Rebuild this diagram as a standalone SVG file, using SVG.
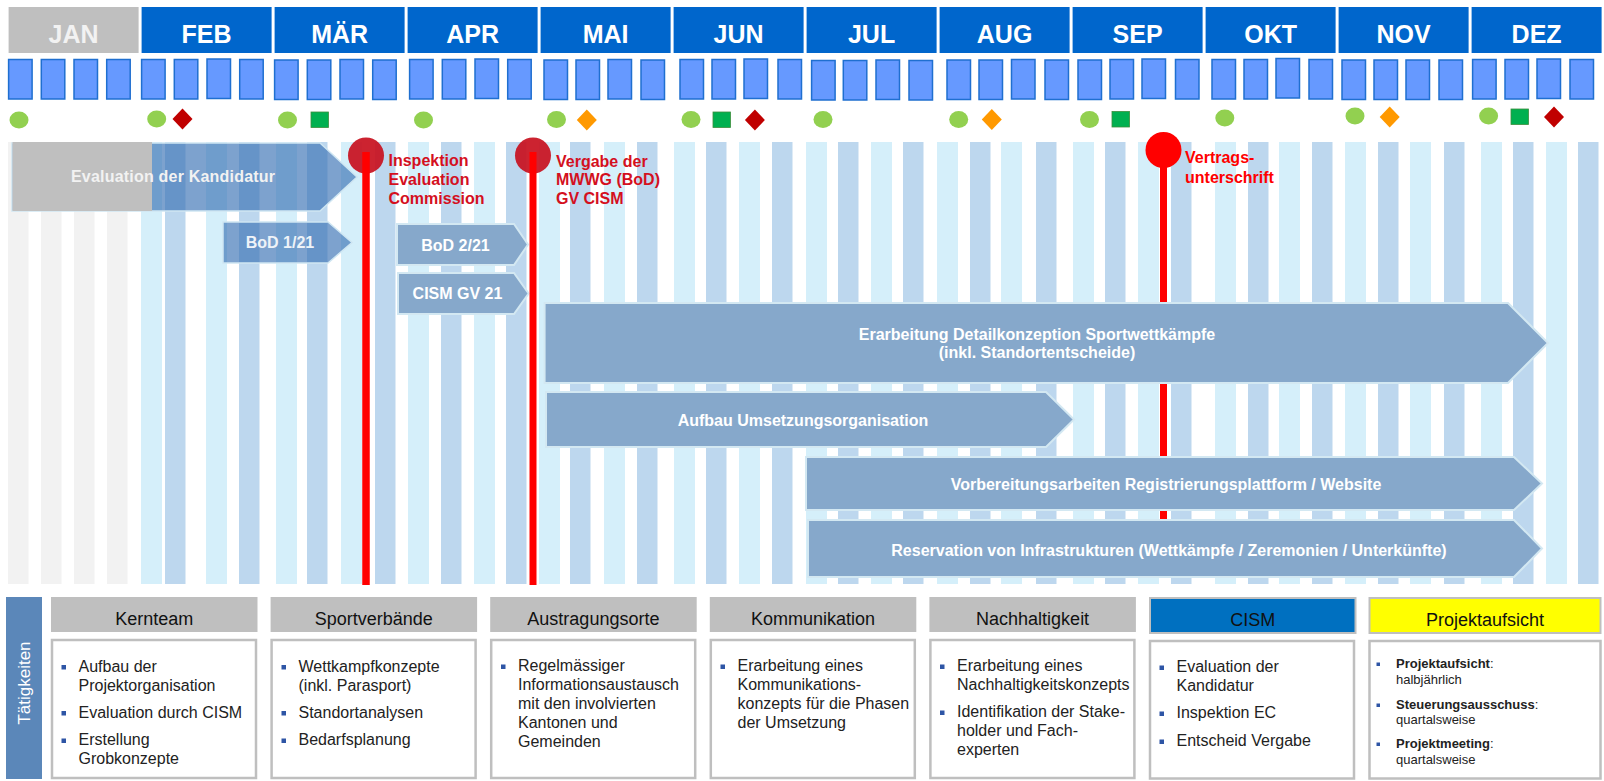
<svg xmlns="http://www.w3.org/2000/svg" width="1604" height="781" viewBox="0 0 1604 781">
<defs>
<style>
text{font-family:"Liberation Sans",Arial,sans-serif}
.mh{fill:#0066CC}
.mt{fill:#FFFFFF;font-weight:bold;font-size:25px;text-anchor:middle}
.wk{fill:#6699FF;stroke:#1F6FD0;stroke-width:1.5}
.gc{fill:#92D050}
.gs{fill:#00B050;stroke:#3C8E3C;stroke-width:0.8}
.rd{fill:#C00000}
.od{fill:#FF9900}
.sg{fill:#F2F2F2}
.sl{fill:#D5EFFA}
.sd{fill:#BDD7EE}
.ta{fill:#3A72B4;fill-opacity:0.66;stroke:#CFE6F2;stroke-width:1.5}
.oa{fill:#86A8CB;stroke:#D3E8F2;stroke-width:2}
.at{fill:#FFFFFF;font-weight:bold;font-size:16px;text-anchor:middle}
.pl{fill:#D4101E;font-weight:bold;font-size:16px}
.ph{fill:#BFBFBF}
.hd{font-size:18px;fill:#111;text-anchor:middle}
.bx{fill:#FFFFFF;stroke:#BFBFBF;stroke-width:2.5}
.bt{font-size:16px;fill:#222}
.st{font-size:13px;fill:#222}
.bu{fill:#2E55A5}
</style>
</defs>
<rect width="1604" height="781" fill="#FFFFFF"/>

<g id="month-headers">
<rect x="8.6" y="7" width="130" height="46" fill="#BFBFBF"/><text class="mt" x="73.6" y="43" style="fill:#F2F2F2">JAN</text>
<rect class="mh" x="141.6" y="7" width="130" height="46"/><text class="mt" x="206.6" y="43">FEB</text>
<rect class="mh" x="274.6" y="7" width="130" height="46"/><text class="mt" x="339.6" y="43">MÄR</text>
<rect class="mh" x="407.6" y="7" width="130" height="46"/><text class="mt" x="472.6" y="43">APR</text>
<rect class="mh" x="540.6" y="7" width="130" height="46"/><text class="mt" x="605.6" y="43">MAI</text>
<rect class="mh" x="673.6" y="7" width="130" height="46"/><text class="mt" x="738.6" y="43">JUN</text>
<rect class="mh" x="806.6" y="7" width="130" height="46"/><text class="mt" x="871.6" y="43">JUL</text>
<rect class="mh" x="939.6" y="7" width="130" height="46"/><text class="mt" x="1004.6" y="43">AUG</text>
<rect class="mh" x="1072.6" y="7" width="130" height="46"/><text class="mt" x="1137.6" y="43">SEP</text>
<rect class="mh" x="1205.6" y="7" width="130" height="46"/><text class="mt" x="1270.6" y="43">OKT</text>
<rect class="mh" x="1338.6" y="7" width="130" height="46"/><text class="mt" x="1403.6" y="43">NOV</text>
<rect class="mh" x="1471.6" y="7" width="130" height="46"/><text class="mt" x="1536.6" y="43">DEZ</text>
</g>

<g id="weeks">
<rect class="wk" x="8.6" y="59.5" width="23.5" height="39.5"/><rect class="wk" x="41.3" y="59.5" width="23.5" height="39.5"/><rect class="wk" x="74" y="59.5" width="23.5" height="39.5"/><rect class="wk" x="106.7" y="59.5" width="23.5" height="39.5"/>
<rect class="wk" x="141.6" y="59.5" width="23.5" height="39.5"/><rect class="wk" x="174.3" y="59.5" width="23.5" height="39.5"/><rect class="wk" x="207" y="59" width="23.5" height="39.5"/><rect class="wk" x="239.7" y="59.5" width="23.5" height="39.5"/>
<rect class="wk" x="274.6" y="60" width="23.5" height="39.5"/><rect class="wk" x="307.3" y="60" width="23.5" height="39.5"/><rect class="wk" x="340" y="59.5" width="23.5" height="39.5"/><rect class="wk" x="372.7" y="60" width="23.5" height="39.5"/>
<rect class="wk" x="409.6" y="59.5" width="23.5" height="39.5"/><rect class="wk" x="442.3" y="59.5" width="23.5" height="39.5"/><rect class="wk" x="475" y="59" width="23.5" height="39.5"/><rect class="wk" x="507.7" y="59.5" width="23.5" height="39.5"/>
<rect class="wk" x="544" y="60" width="23.5" height="39.5"/><rect class="wk" x="576" y="60" width="23.5" height="39.5"/><rect class="wk" x="608" y="59.5" width="23.5" height="39.5"/><rect class="wk" x="641" y="60" width="23.5" height="39.5"/>
<rect class="wk" x="680" y="59.5" width="23.5" height="39.5"/><rect class="wk" x="712" y="59.5" width="23.5" height="39.5"/><rect class="wk" x="744" y="59" width="23.5" height="39.5"/><rect class="wk" x="778" y="59.5" width="23.5" height="39.5"/>
<rect class="wk" x="811.6" y="60.5" width="23.5" height="39.5"/><rect class="wk" x="843.3" y="60.5" width="23.5" height="39.5"/><rect class="wk" x="876" y="60" width="23.5" height="39.5"/><rect class="wk" x="909" y="60.5" width="23.5" height="39.5"/>
<rect class="wk" x="947" y="60" width="23.5" height="39.5"/><rect class="wk" x="979" y="60" width="23.5" height="39.5"/><rect class="wk" x="1011.5" y="59.5" width="23.5" height="39.5"/><rect class="wk" x="1045" y="60" width="23.5" height="39.5"/>
<rect class="wk" x="1078" y="60" width="23.5" height="39.5"/><rect class="wk" x="1110" y="59.5" width="23.5" height="39.5"/><rect class="wk" x="1142" y="59" width="23.5" height="39.5"/><rect class="wk" x="1175.5" y="59.5" width="23.5" height="39.5"/>
<rect class="wk" x="1212" y="59.5" width="23.5" height="39.5"/><rect class="wk" x="1244" y="59.5" width="23.5" height="39.5"/><rect class="wk" x="1276" y="58.5" width="23.5" height="39.5"/><rect class="wk" x="1309" y="59.5" width="23.5" height="39.5"/>
<rect class="wk" x="1342" y="60" width="23.5" height="39.5"/><rect class="wk" x="1374" y="60" width="23.5" height="39.5"/><rect class="wk" x="1406" y="60" width="23.5" height="39.5"/><rect class="wk" x="1439" y="60" width="23.5" height="39.5"/>
<rect class="wk" x="1472.6" y="59.5" width="23.5" height="39.5"/><rect class="wk" x="1505" y="59.5" width="23.5" height="39.5"/><rect class="wk" x="1537" y="59" width="23.5" height="39.5"/><rect class="wk" x="1570" y="59.5" width="23.5" height="39.5"/>
</g>

<g id="milestone-symbols">
<ellipse class="gc" cx="19" cy="120" rx="9.5" ry="8.5"/>
<ellipse class="gc" cx="156.7" cy="119" rx="9.5" ry="8.5"/><polygon class="rd" points="182.5,108.5 192.5,119 182.5,129.5 172.5,119"/>
<ellipse class="gc" cx="287.5" cy="120" rx="9.5" ry="8.5"/><rect class="gs" x="311" y="112" width="17.5" height="15.5"/>
<ellipse class="gc" cx="423.5" cy="120" rx="9.5" ry="8.5"/>
<ellipse class="gc" cx="556.5" cy="119.5" rx="9.5" ry="8.5"/><polygon class="od" points="586.8,109.5 596.8,120 586.8,130.5 576.8,120"/>
<ellipse class="gc" cx="691" cy="119.5" rx="9.5" ry="8.5"/><rect class="gs" x="713" y="112" width="17.5" height="15.5"/><polygon class="rd" points="754.9,109.5 764.9,120 754.9,130.5 744.9,120"/>
<ellipse class="gc" cx="823" cy="119.5" rx="9.5" ry="8.5"/>
<ellipse class="gc" cx="958.7" cy="119.5" rx="9.5" ry="8.5"/><polygon class="od" points="991.8,109 1001.8,119.5 991.8,130 981.8,119.5"/>
<ellipse class="gc" cx="1089.5" cy="119.5" rx="9.5" ry="8.5"/><rect class="gs" x="1112" y="111.5" width="17.5" height="15.5"/>
<ellipse class="gc" cx="1224.8" cy="118" rx="9.5" ry="8.5"/>
<ellipse class="gc" cx="1355" cy="116" rx="9.5" ry="8.5"/><polygon class="od" points="1389.7,106.5 1399.7,117 1389.7,127.5 1379.7,117"/>
<ellipse class="gc" cx="1488.6" cy="116" rx="9.5" ry="8.5"/><rect class="gs" x="1511" y="109" width="17.5" height="15.5"/><polygon class="rd" points="1554,106.5 1564,117 1554,127.5 1544,117"/>
</g>

<g id="week-stripes">
<rect class="sg" x="8" y="142" width="20.5" height="442"/><rect class="sg" x="41" y="142" width="20.5" height="442"/><rect class="sg" x="74" y="142" width="20.5" height="442"/><rect class="sg" x="107" y="142" width="20.5" height="442"/>
<rect class="sl" x="141" y="142" width="21" height="442"/><rect class="sd" x="165" y="142" width="20.5" height="442"/>
<rect class="sl" x="206" y="142" width="21" height="442"/><rect class="sd" x="239" y="142" width="20.5" height="442"/>
<rect class="sl" x="276" y="142" width="21" height="442"/><rect class="sd" x="307" y="142" width="20.5" height="442"/>
<rect class="sl" x="341" y="142" width="21" height="442"/><rect class="sd" x="375" y="142" width="20.5" height="442"/>
<rect class="sl" x="408" y="142" width="21" height="442"/><rect class="sd" x="441" y="142" width="20.5" height="442"/>
<rect class="sl" x="474" y="142" width="21" height="442"/><rect class="sd" x="506" y="142" width="20.5" height="442"/>
<rect class="sl" x="539" y="142" width="21" height="442"/><rect class="sd" x="570" y="142" width="20.5" height="442"/>
<rect class="sl" x="604" y="142" width="21" height="442"/><rect class="sd" x="637" y="142" width="20.5" height="442"/>
<rect class="sl" x="674" y="142" width="21" height="442"/><rect class="sd" x="706" y="142" width="20.5" height="442"/>
<rect class="sl" x="739" y="142" width="21" height="442"/><rect class="sd" x="772" y="142" width="20.5" height="442"/>
<rect class="sl" x="806" y="142" width="21" height="442"/><rect class="sd" x="838" y="142" width="20.5" height="442"/>
<rect class="sl" x="871" y="142" width="21" height="442"/><rect class="sd" x="903" y="142" width="20.5" height="442"/>
<rect class="sl" x="937" y="142" width="21" height="442"/><rect class="sd" x="970" y="142" width="20.5" height="442"/>
<rect class="sl" x="1001" y="142" width="21" height="442"/><rect class="sd" x="1036" y="142" width="20.5" height="442"/>
<rect class="sl" x="1073" y="142" width="21" height="442"/><rect class="sd" x="1105" y="142" width="20.5" height="442"/>
<rect class="sl" x="1138" y="142" width="21" height="442"/><rect class="sd" x="1171" y="142" width="20.5" height="442"/>
<rect class="sl" x="1215" y="142" width="21" height="442"/><rect class="sd" x="1248" y="142" width="20.5" height="442"/>
<rect class="sl" x="1279" y="142" width="21" height="442"/><rect class="sd" x="1312" y="142" width="20.5" height="442"/>
<rect class="sl" x="1345" y="142" width="21" height="442"/><rect class="sd" x="1378" y="142" width="20.5" height="442"/>
<rect class="sl" x="1410" y="142" width="21" height="442"/><rect class="sd" x="1444" y="142" width="20.5" height="442"/>
<rect class="sl" x="1481" y="142" width="21" height="442"/><rect class="sd" x="1513" y="142" width="20.5" height="442"/>
<rect class="sl" x="1546" y="142" width="21" height="442"/><rect class="sd" x="1578" y="142" width="20.5" height="442"/>
</g>

<g id="pin-vertrag-line">
<line x1="1163.5" y1="150" x2="1163.5" y2="540" stroke="#FF0000" stroke-width="7"/>
</g>

<g id="task-evaluation">
<polygon class="ta" points="12,143 320,143 357,177 320,211 12,211"/>
<rect x="12.5" y="142" width="139.5" height="69" fill="#BFBFBF"/>
<text class="at" x="173" y="182" font-size="16" textLength="204" style="fill:#F2F2F2">Evaluation der Kandidatur</text>
</g>
<g id="task-bod1">
<polygon class="ta" points="223,222 328,222 352,242.5 328,263 223,263"/>
<text class="at" x="280" y="248" style="fill:#EEF3F8">BoD 1/21</text>
</g>
<g id="task-bod2">
<polygon class="oa" points="397,224 514,224 528,244.5 514,265 397,265"/>
<text class="at" x="455.5" y="250.5">BoD 2/21</text>
</g>
<g id="task-cismgv">
<polygon class="oa" points="398,273 514,273 528.6,293.5 514,314 398,314"/>
<text class="at" x="457.5" y="298.5">CISM GV 21</text>
</g>
<g id="task-detailkonzeption">
<polygon class="oa" points="544.6,303 1508,303 1548,343 1508,383 544.6,383"/>
<text class="at" x="1037" y="340">Erarbeitung Detailkonzeption Sportwettkämpfe</text>
<text class="at" x="1037" y="358">(inkl. Standortentscheide)</text>
</g>
<g id="task-aufbau">
<polygon class="oa" points="546,392 1046,392 1074,419.5 1046,447 546,447"/>
<text class="at" x="803" y="426">Aufbau Umsetzungsorganisation</text>
</g>
<g id="task-vorbereitung">
<polygon class="oa" points="806,457 1514,457 1542,483.5 1514,510 806,510"/>
<text class="at" x="1166" y="490">Vorbereitungsarbeiten Registrierungsplattform / Website</text>
</g>
<g id="task-reservation">
<polygon class="oa" points="808,520 1514,520 1542,548.5 1514,577 808,577"/>
<text class="at" x="1169" y="555.5">Reservation von Infrastrukturen (Wettkämpfe / Zeremonien / Unterkünfte)</text>
</g>

<g id="pin-inspektion">
<circle cx="366" cy="155.5" r="18" fill="#C8101E" fill-opacity="0.92"/>
<line x1="366" y1="152" x2="366" y2="585" stroke="#FF0000" stroke-width="7.5"/>
<text class="pl" x="388.5" y="166">Inspektion</text>
<text class="pl" x="388.5" y="185">Evaluation</text>
<text class="pl" x="388.5" y="204">Commission</text>
</g>
<g id="pin-vergabe">
<circle cx="533" cy="155.5" r="18" fill="#C8101E" fill-opacity="0.92"/>
<line x1="533" y1="152" x2="533" y2="585" stroke="#FF0000" stroke-width="7"/>
<text class="pl" x="556" y="167">Vergabe der</text>
<text class="pl" x="556" y="185">MWWG (BoD)</text>
<text class="pl" x="556" y="204">GV CISM</text>
</g>
<g id="pin-vertrag">
<circle cx="1163.5" cy="150" r="18" fill="#FF0000"/>
<text class="pl" x="1185" y="163" style="fill:#FF0000">Vertrags-</text>
<text class="pl" x="1185" y="183" style="fill:#FF0000">unterschrift</text>
</g>

<g id="label-taetigkeiten">
<rect x="6" y="597" width="36" height="182" fill="#5B87B9"/>
<text x="29.5" y="683" transform="rotate(-90 29.5 683)" font-size="17" fill="#FFFFFF" text-anchor="middle">Tätigkeiten</text>
</g>

<g id="group-kernteam">
<rect class="ph" x="51" y="597" width="206.5" height="35"/>
<text class="hd" x="154.2" y="625">Kernteam</text>
<rect class="bx" x="52" y="640" width="204" height="138"/>
<rect class="bu" x="61.5" y="665" width="4.5" height="4.5"/><text class="bt" x="78.5" y="671.5">Aufbau der</text><text class="bt" x="78.5" y="690.5">Projektorganisation</text>
<rect class="bu" x="61.5" y="711" width="4.5" height="4.5"/><text class="bt" x="78.5" y="717.5">Evaluation durch CISM</text>
<rect class="bu" x="61.5" y="738.5" width="4.5" height="4.5"/><text class="bt" x="78.5" y="745">Erstellung</text><text class="bt" x="78.5" y="764">Grobkonzepte</text>
</g>

<g id="group-sportverbaende">
<rect class="ph" x="270.6" y="597" width="206.5" height="35"/>
<text class="hd" x="373.8" y="625">Sportverbände</text>
<rect class="bx" x="271.6" y="640" width="204" height="138"/>
<rect class="bu" x="281.5" y="665" width="4.5" height="4.5"/><text class="bt" x="298.5" y="671.5">Wettkampfkonzepte</text><text class="bt" x="298.5" y="690.5">(inkl. Parasport)</text>
<rect class="bu" x="281.5" y="711" width="4.5" height="4.5"/><text class="bt" x="298.5" y="717.5">Standortanalysen</text>
<rect class="bu" x="281.5" y="738.5" width="4.5" height="4.5"/><text class="bt" x="298.5" y="745">Bedarfsplanung</text>
</g>

<g id="group-austragungsorte">
<rect class="ph" x="490.2" y="597" width="206.5" height="35"/>
<text class="hd" x="593.4" y="625">Austragungsorte</text>
<rect class="bx" x="491.2" y="640" width="204" height="138"/>
<rect class="bu" x="501" y="664.5" width="4.5" height="4.5"/><text class="bt" x="518" y="671">Regelmässiger</text><text class="bt" x="518" y="690">Informationsaustausch</text><text class="bt" x="518" y="709">mit den involvierten</text><text class="bt" x="518" y="728">Kantonen und</text><text class="bt" x="518" y="747">Gemeinden</text>
</g>

<g id="group-kommunikation">
<rect class="ph" x="709.8" y="597" width="206.5" height="35"/>
<text class="hd" x="813" y="625">Kommunikation</text>
<rect class="bx" x="710.8" y="640" width="204" height="138"/>
<rect class="bu" x="720.5" y="664.5" width="4.5" height="4.5"/><text class="bt" x="737.5" y="671">Erarbeitung eines</text><text class="bt" x="737.5" y="690">Kommunikations-</text><text class="bt" x="737.5" y="709">konzepts für die Phasen</text><text class="bt" x="737.5" y="728">der Umsetzung</text>
</g>

<g id="group-nachhaltigkeit">
<rect class="ph" x="929.4" y="597" width="206.5" height="35"/>
<text class="hd" x="1032.6" y="625">Nachhaltigkeit</text>
<rect class="bx" x="930.4" y="640" width="204" height="138"/>
<rect class="bu" x="940" y="664.5" width="4.5" height="4.5"/><text class="bt" x="957" y="671">Erarbeitung eines</text><text class="bt" x="957" y="690">Nachhaltigkeitskonzepts</text>
<rect class="bu" x="940" y="710.5" width="4.5" height="4.5"/><text class="bt" x="957" y="717">Identifikation der Stake-</text><text class="bt" x="957" y="736">holder und Fach-</text><text class="bt" x="957" y="755">experten</text>
</g>

<g id="group-cism">
<rect x="1150" y="598" width="205.5" height="35" fill="#0070C0" stroke="#BFBFBF" stroke-width="2"/>
<text class="hd" x="1252.7" y="626">CISM</text>
<rect class="bx" x="1150" y="641" width="204" height="137.5"/>
<rect class="bu" x="1159.5" y="665.5" width="4.5" height="4.5"/><text class="bt" x="1176.5" y="672">Evaluation der</text><text class="bt" x="1176.5" y="691">Kandidatur</text>
<rect class="bu" x="1159.5" y="711.5" width="4.5" height="4.5"/><text class="bt" x="1176.5" y="718">Inspektion EC</text>
<rect class="bu" x="1159.5" y="739.5" width="4.5" height="4.5"/><text class="bt" x="1176.5" y="746">Entscheid Vergabe</text>
</g>

<g id="group-projektaufsicht">
<rect x="1369.5" y="598" width="231" height="35" fill="#FFFF00" stroke="#BFBFBF" stroke-width="2"/>
<text class="hd" x="1485" y="626">Projektaufsicht</text>
<rect class="bx" x="1369.5" y="641" width="231" height="137.5"/>
<rect class="bu" x="1376.5" y="662.5" width="3.5" height="3.5"/><text class="st" x="1396" y="668"><tspan font-weight="bold">Projektaufsicht</tspan>:</text><text class="st" x="1396" y="684">halbjährlich</text>
<rect class="bu" x="1376.5" y="703.5" width="3.5" height="3.5"/><text class="st" x="1396" y="709"><tspan font-weight="bold">Steuerungsausschuss</tspan>:</text><text class="st" x="1396" y="724">quartalsweise</text>
<rect class="bu" x="1376.5" y="742.5" width="3.5" height="3.5"/><text class="st" x="1396" y="748"><tspan font-weight="bold">Projektmeeting</tspan>:</text><text class="st" x="1396" y="764">quartalsweise</text>
</g>
</svg>
